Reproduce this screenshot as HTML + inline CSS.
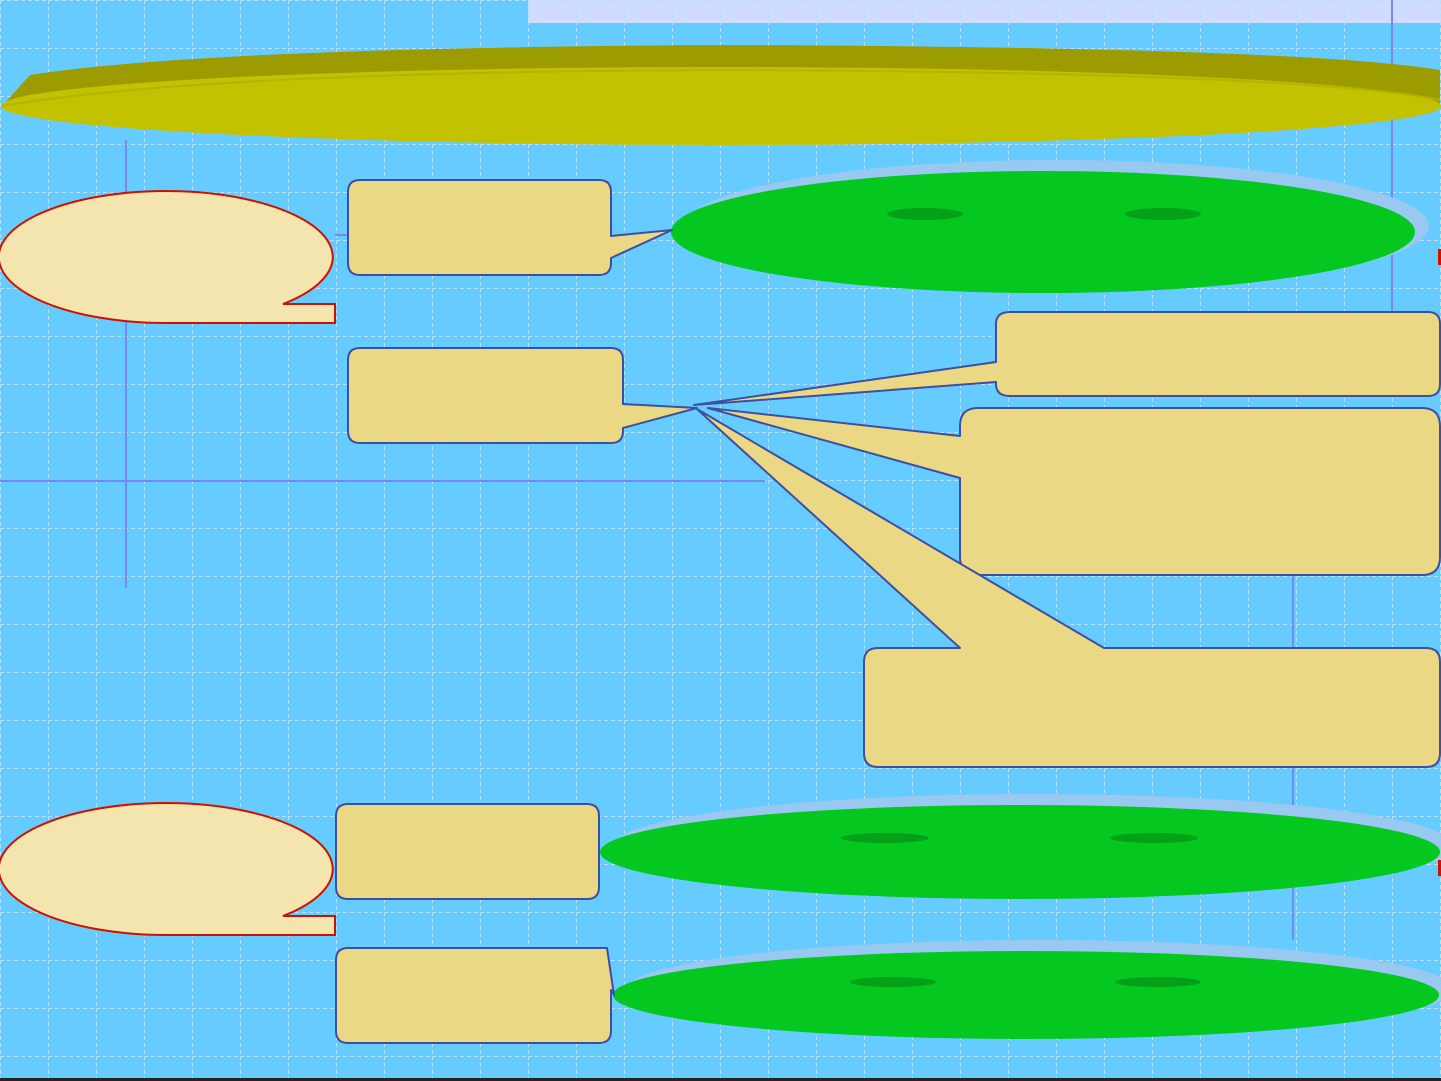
<!DOCTYPE html>
<html><head><meta charset="utf-8"><style>
html,body{margin:0;padding:0;background:#66ccff;}
svg{display:block;}
</style></head><body>
<svg width="1441" height="1081" viewBox="0 0 1441 1081" xmlns="http://www.w3.org/2000/svg">
<defs>
<pattern id="g" width="48" height="48" patternUnits="userSpaceOnUse">
<path d="M0 0.5H48M0.5 0V48" stroke="#b8e0ff" stroke-width="1" stroke-dasharray="4 3" fill="none"/>
</pattern>
</defs>
<rect width="1441" height="1081" fill="#66ccff"/>
<rect x="528" y="0" width="913" height="23" fill="#d0dcff"/>
<rect width="1441" height="1081" fill="url(#g)"/>
<g stroke="#7888f2" stroke-width="2">
<line x1="126" y1="140" x2="126" y2="588"/>
<line x1="0" y1="481" x2="765" y2="481"/>
<line x1="1392" y1="0" x2="1392" y2="312"/>
<line x1="1293" y1="575" x2="1293" y2="940"/>
<line x1="335" y1="235" x2="348" y2="235"/>
</g>
<path d="M2 106 L30 75 Q200 48 720 45 Q1300 47 1440 70 L1440 105 Z" fill="#9c9c00"/>
<ellipse cx="721" cy="106" rx="720" ry="39" fill="#c2c200"/>
<path d="M2 106 Q200 72 720 70 Q1300 72 1440 100" fill="none" stroke="#b4b400" stroke-width="2"/>
<ellipse cx="1057" cy="226" rx="372" ry="66" fill="#99c8f0"/>
<ellipse cx="1043" cy="232" rx="372" ry="61" fill="#04c820"/>
<ellipse cx="925" cy="214" rx="38" ry="6" fill="#03a018"/>
<ellipse cx="1163" cy="214" rx="38" ry="6" fill="#03a018"/>
<ellipse cx="1034" cy="846" rx="420" ry="52" fill="#99c8f0"/>
<ellipse cx="1020" cy="852" rx="420" ry="47" fill="#04c820"/>
<ellipse cx="885" cy="838" rx="44" ry="5" fill="#03a018"/>
<ellipse cx="1154" cy="838" rx="44" ry="5" fill="#03a018"/>
<ellipse cx="1040" cy="989" rx="413" ry="49" fill="#99c8f0"/>
<ellipse cx="1026" cy="995" rx="413" ry="44" fill="#04c820"/>
<ellipse cx="893" cy="982" rx="43" ry="5" fill="#03a018"/>
<ellipse cx="1158" cy="982" rx="43" ry="5" fill="#03a018"/>
<g fill="#ead885" stroke="#3f4fa0" stroke-width="2" stroke-linejoin="round">
<path d="M360 180 H599 Q611 180 611 192 V236 L672 230 L611 258 V263 Q611 275 599 275 H360 Q348 275 348 263 V192 Q348 180 360 180 Z"/>
<path d="M360 348 H611 Q623 348 623 360 V404 L697 408 L623 428 V431 Q623 443 611 443 H360 Q348 443 348 431 V360 Q348 348 360 348 Z"/>
<path d="M1010 312 H1428 Q1440 312 1440 324 V384 Q1440 396 1428 396 H1010 Q996 396 996 384 V382 L694 405 L996 362 V324 Q996 312 1010 312 Z"/>
<path d="M978 408 H1422 Q1440 408 1440 426 V557 Q1440 575 1422 575 H978 Q960 575 960 557 V478 L708 408 L960 436 V426 Q960 408 978 408 Z"/>
<path d="M697 409 L1104 648 H1426 Q1440 648 1440 662 V753 Q1440 767 1426 767 H878 Q864 767 864 753 V662 Q864 648 878 648 H960 Z"/>
<path d="M348 804 H587 Q599 804 599 816 V887 Q599 899 587 899 H348 Q336 899 336 887 V816 Q336 804 348 804 Z"/>
<path d="M348 948 H607 L614 995 L611 990 V1031 Q611 1043 599 1043 H348 Q336 1043 336 1031 V960 Q336 948 348 948 Z"/>
</g>
<g fill="#f4e4ad" stroke="#cc1100" stroke-width="2">
<path d="M283 304 A167 66 0 1 0 168 323 H335 V304 Z"/>
<path d="M283 916 A167 66 0 1 0 168 935 H335 V916 Z"/>
</g>
<rect x="1438" y="249" width="3" height="16" fill="#cc1100"/>
<rect x="1438" y="860" width="3" height="16" fill="#cc1100"/>
<rect x="0" y="1078" width="1441" height="3" fill="#222"/>
</svg>
</body></html>
